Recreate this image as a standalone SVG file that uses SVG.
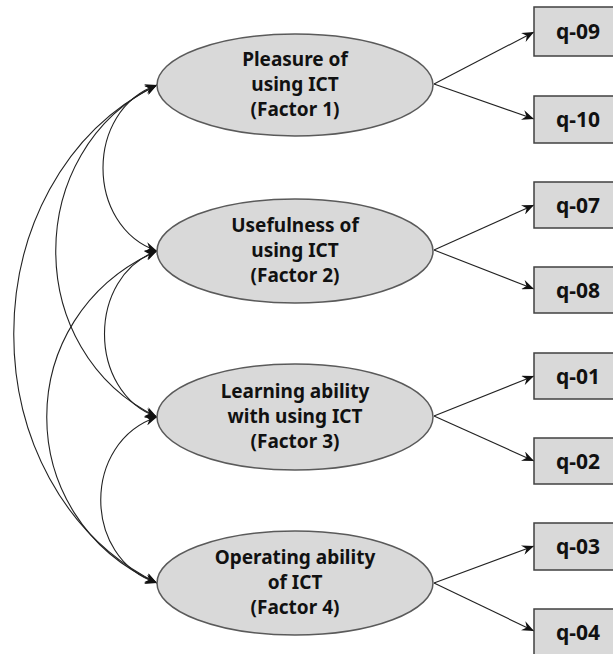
<svg xmlns="http://www.w3.org/2000/svg" width="613" height="654" viewBox="0 0 613 654">
<style>
.f{fill:#d9d9d9;stroke:#5a5a5a;stroke-width:1.5}
.r{fill:#d9d9d9;stroke:#404040;stroke-width:1.5}
.t{font-family:"Noto Sans","DejaVu Sans",sans-serif;font-weight:700;font-size:19px;fill:#111;text-anchor:middle}
.q{font-family:"Noto Sans","DejaVu Sans",sans-serif;font-weight:700;font-size:21px;fill:#111;text-anchor:middle}
.c{fill:none;stroke:#222;stroke-width:1.1}
</style>
<defs>
<marker id="a" viewBox="0 0 12 10" refX="12" refY="5" markerWidth="12" markerHeight="10" markerUnits="userSpaceOnUse" orient="auto-start-reverse">
<path d="M0,0 L12,5 L0,10 L4,5 z" fill="#111"/>
</marker>
</defs>
<rect width="613" height="654" fill="#fff"/>
<g id="connectors">
<path class="c" d="M434,84 L534,32" marker-end="url(#a)"/>
<path class="c" d="M434,84 L534,119" marker-end="url(#a)"/>
<path class="c" d="M434,250 L534,205" marker-end="url(#a)"/>
<path class="c" d="M434,250 L534,289" marker-end="url(#a)"/>
<path class="c" d="M434,416 L534,376" marker-end="url(#a)"/>
<path class="c" d="M434,416 L534,461" marker-end="url(#a)"/>
<path class="c" d="M434,583 L534,546" marker-end="url(#a)"/>
<path class="c" d="M434,583 L534,631" marker-end="url(#a)"/>
<path class="c" d="M157,85 C85,110 85,226 157,251" marker-start="url(#a)" marker-end="url(#a)"/>
<path class="c" d="M157,251 C87,276 87,392 157,417" marker-start="url(#a)" marker-end="url(#a)"/>
<path class="c" d="M157,417 C82,442 82,558 157,583" marker-start="url(#a)" marker-end="url(#a)"/>
<path class="c" d="M157,85 C22,150 22,352 157,417" marker-start="url(#a)" marker-end="url(#a)"/>
<path class="c" d="M157,251 C10,316 10,518 157,583" marker-start="url(#a)" marker-end="url(#a)"/>
<path class="c" d="M157,85 C-34,180 -34,488 157,583" marker-start="url(#a)" marker-end="url(#a)"/>
</g>
<g id="factor1">
<ellipse class="f" cx="295" cy="85" rx="138" ry="51"/>
<text class="t" x="295" y="66">Pleasure of</text>
<text class="t" x="295" y="91">using ICT</text>
<text class="t" x="295" y="116">(Factor 1)</text>
</g>
<g id="factor2">
<ellipse class="f" cx="295" cy="251" rx="138" ry="52"/>
<text class="t" x="295" y="232">Usefulness of</text>
<text class="t" x="295" y="257">using ICT</text>
<text class="t" x="295" y="282">(Factor 2)</text>
</g>
<g id="factor3">
<ellipse class="f" cx="295" cy="417" rx="138" ry="53"/>
<text class="t" x="295" y="398">Learning ability</text>
<text class="t" x="295" y="423">with using ICT</text>
<text class="t" x="295" y="448">(Factor 3)</text>
</g>
<g id="factor4">
<ellipse class="f" cx="295" cy="583" rx="138" ry="52"/>
<text class="t" x="295" y="564">Operating ability</text>
<text class="t" x="295" y="589">of ICT</text>
<text class="t" x="295" y="614">(Factor 4)</text>
</g>
<g id="q09"><rect class="r" x="534" y="7" width="100" height="49"/><text class="q" x="578" y="39">q-09</text></g>
<g id="q10"><rect class="r" x="534" y="96" width="100" height="47"/><text class="q" x="578" y="127">q-10</text></g>
<g id="q07"><rect class="r" x="534" y="182" width="100" height="46"/><text class="q" x="578" y="213">q-07</text></g>
<g id="q08"><rect class="r" x="534" y="267" width="100" height="46"/><text class="q" x="578" y="298">q-08</text></g>
<g id="q01"><rect class="r" x="534" y="353" width="100" height="46"/><text class="q" x="578" y="384">q-01</text></g>
<g id="q02"><rect class="r" x="534" y="438" width="100" height="46"/><text class="q" x="578" y="469">q-02</text></g>
<g id="q03"><rect class="r" x="534" y="523" width="100" height="47"/><text class="q" x="578" y="554">q-03</text></g>
<g id="q04"><rect class="r" x="534" y="609" width="100" height="50"/><text class="q" x="578" y="640">q-04</text></g>
</svg>
